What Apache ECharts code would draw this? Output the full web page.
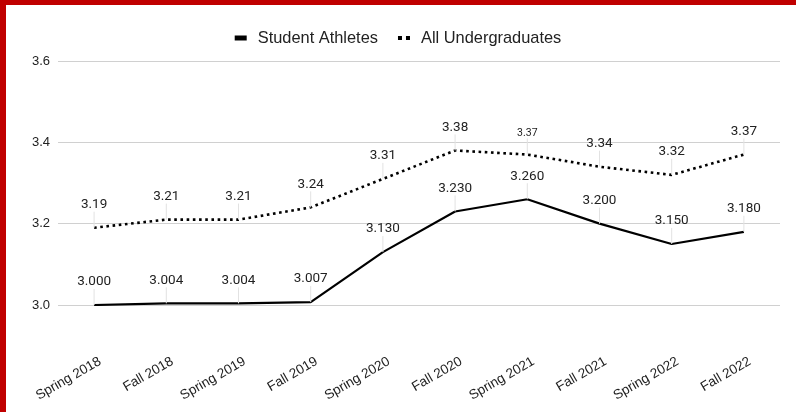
<!DOCTYPE html>
<html>
<head>
<meta charset="utf-8">
<script src="https://cdn.jsdelivr.net/npm/echarts@6/dist/echarts.min.js"></script>
<style>
html,body{margin:0;padding:0;background:#fff;}
#c{width:796px;height:412px;}
</style>
</head>
<body>
<div id="c"></div>
<script>
const categories = ["Spring 2018","Fall 2018","Spring 2019","Fall 2019","Spring 2020","Fall 2020","Spring 2021","Fall 2021","Spring 2022","Fall 2022"];
const athletes = [3.000,3.004,3.004,3.007,3.130,3.230,3.260,3.200,3.150,3.180];
const undergrads = [3.19,3.21,3.21,3.24,3.31,3.38,3.37,3.34,3.32,3.37];
const yTicks = [3.0,3.2,3.4,3.6];

const chart = echarts.init(document.getElementById('c'));
const font = 'Roboto, "Noto Sans", sans-serif';
const sans = '"Liberation Sans", Arial, sans-serif';
const lbl = {show:true, position:'top', distance:8, color:'#222', fontSize:13.5, fontFamily:font};

chart.setOption({
  animation:false,
  textStyle:{fontFamily:font},
  graphic:[
    {type:'rect', shape:{x:0,y:0,width:796,height:5}, style:{fill:'#c00000'}, z:100},
    {type:'rect', shape:{x:0,y:0,width:6,height:412}, style:{fill:'#c00000'}, z:100}
  ],
  legend:{
    top:25, left:'center', itemGap:20, itemWidth:12, itemHeight:5,
    textStyle:{fontSize:16.4, color:'#222', fontFamily:sans, padding:[0,0,0,6]},
    data:[
      {name:'Student Athletes', icon:'rect'},
      {name:'All Undergraduates', icon:'path://M0,0h4v4h-4z M8,0h4v4h-4z'}
    ]
  },
  grid:{left:58, right:16, top:61, bottom:107},
  xAxis:{
    type:'category', data:categories, boundaryGap:true,
    axisLine:{show:false}, axisTick:{show:false},
    axisLabel:{rotate:30, margin:59, fontSize:13.5, color:'#222', fontFamily:sans, interval:0, padding:[0,-7,0,0]}
  },
  yAxis:{
    type:'value', min:yTicks[0], max:yTicks[yTicks.length-1], interval:0.2,
    axisLine:{show:false}, axisTick:{show:false},
    axisLabel:{fontSize:13, color:'#222', margin:8, formatter:v=>v.toFixed(1), fontFamily:sans},
    splitLine:{lineStyle:{color:'#d0d0d0', width:1}}
  },
  series:[
    {
      name:'Student Athletes', type:'line', data:athletes,
      symbol:'circle', symbolSize:0.1, showSymbol:true,
      lineStyle:{color:'#000', width:2.2}, itemStyle:{color:'#000'},
      label:Object.assign({}, lbl, {formatter:p=>Number(p.value).toFixed(3)}),
      labelLayout:{dy:-8},
      labelLine:{show:true, lineStyle:{color:'#e2e2e2', width:1}}
    },
    {
      name:'All Undergraduates', type:'line',
      symbol:'circle', symbolSize:0.1, showSymbol:true,
      data:undergrads.map((v,i)=> i===6 ? {value:v, label:{fontSize:10.5}} : v),
      lineStyle:{color:'#000', width:2.6, type:[2.6,3.6]}, itemStyle:{color:'#000'},
      label:Object.assign({}, lbl, {formatter:p=>Number(p.value).toFixed(2)}),
      labelLayout:{dy:-8},
      labelLine:{show:true, lineStyle:{color:'#e2e2e2', width:1}}
    }
  ]
});
</script>
</body>
</html>
